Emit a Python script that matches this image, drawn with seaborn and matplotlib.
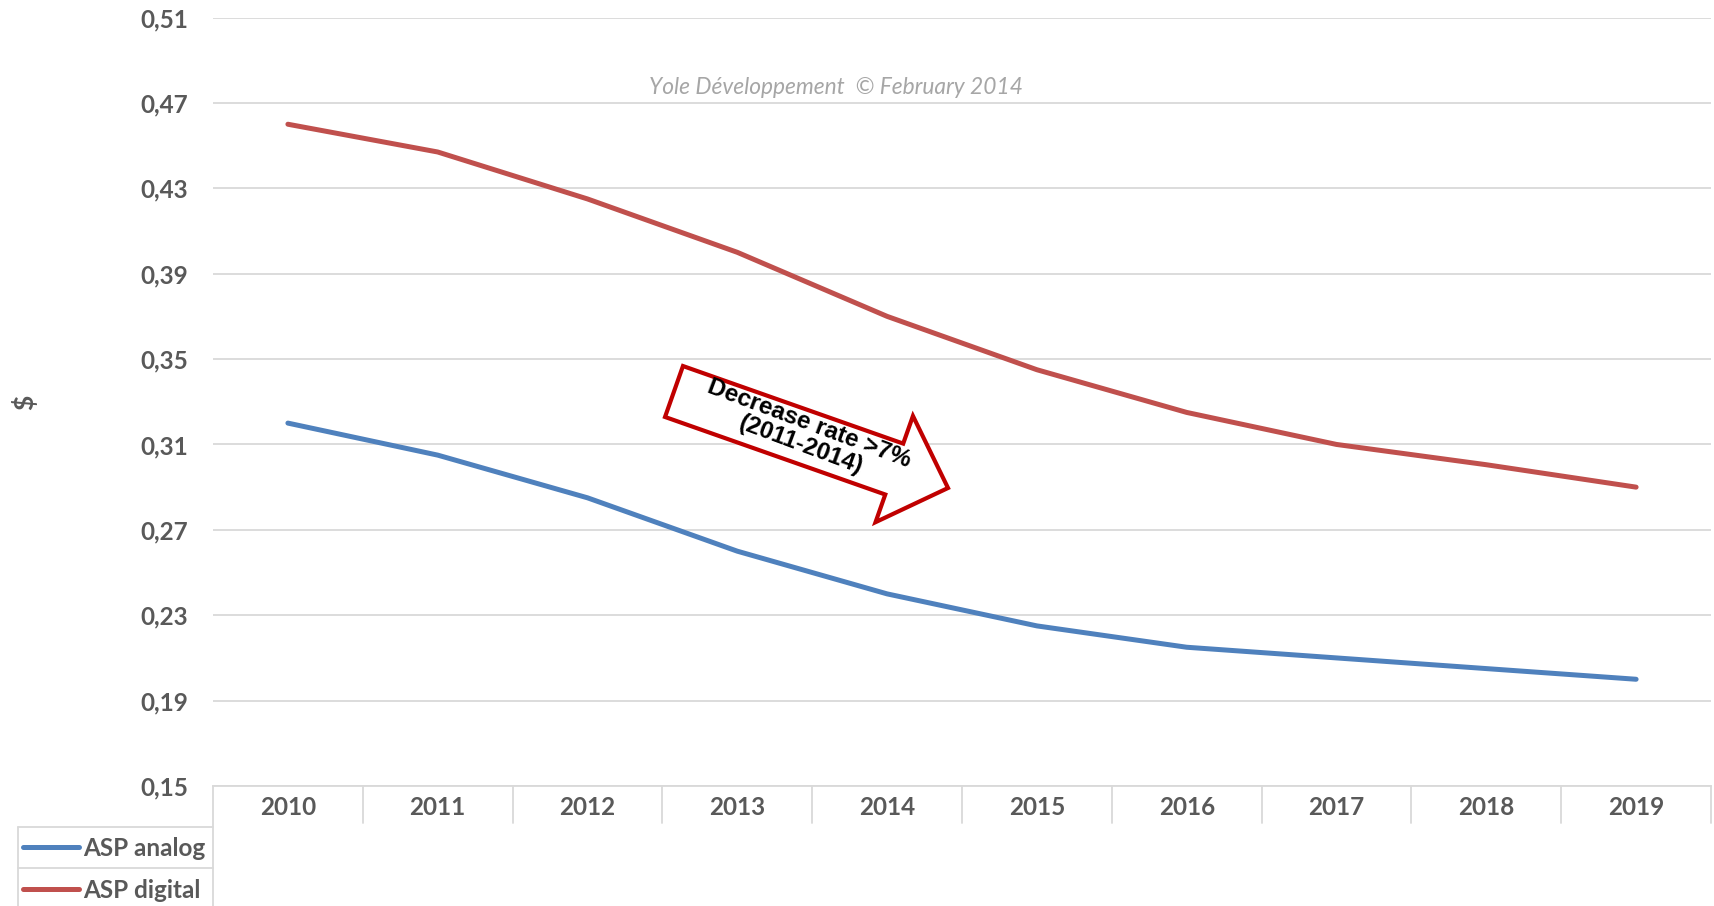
import numpy as np
import pandas as pd
import matplotlib
matplotlib.use('Agg')
import matplotlib.pyplot as plt
import seaborn as sns
from matplotlib.patches import Polygon
from matplotlib.lines import Line2D
from matplotlib.transforms import Affine2D, blended_transform_factory

# Chart data (ASP in $)
years = ['2010', '2011', '2012', '2013', '2014', '2015', '2016', '2017', '2018', '2019']
asp_analog = [0.320, 0.305, 0.285, 0.260, 0.240, 0.225, 0.215, 0.210, 0.205, 0.200]
asp_digital = [0.460, 0.447, 0.425, 0.400, 0.370, 0.345, 0.325, 0.310, 0.3005, 0.290]
series_names = ['ASP analog', 'ASP digital']
y_ticks = [0.15, 0.19, 0.23, 0.27, 0.31, 0.35, 0.39, 0.43, 0.47, 0.51]

df = pd.DataFrame({
    'Year': years * 2,
    'ASP': asp_analog + asp_digital,
    'Series': [series_names[0]] * len(years) + [series_names[1]] * len(years),
})
df['pos'] = list(range(len(years))) * 2

sns.set_style('white')
plt.rcParams['font.family'] = ['Lato', 'DejaVu Sans']

W, H = 1714, 906
fig = plt.figure(figsize=(W / 100, H / 100), dpi=100)
ax = fig.add_axes([213 / W, (H - 786) / H, (1711 - 213) / W, (786 - 17.5) / H])

grey_txt = '#595959'
grid_col = '#D9D9D9'
palette = {'ASP analog': '#4F81BD', 'ASP digital': '#C0504D'}
fs = 17.5

sns.lineplot(data=df, x='pos', y='ASP', hue='Series', palette=palette,
             linewidth=3.6, ax=ax, legend=False, solid_capstyle='round')

ax.set_xlim(-0.5, len(years) - 0.5)
ax.set_ylim(y_ticks[0], y_ticks[-1])
ax.set_yticks(y_ticks)
ax.set_yticklabels([f'{v:.2f}'.replace('.', ',') for v in y_ticks])
ax.set_xticks(range(len(years)))
ax.set_xticklabels(years)
ax.set_xlabel('')
ax.set_ylabel('')
ax.grid(axis='y', color=grid_col, linewidth=1.3)
ax.set_axisbelow(True)
for s in ['top', 'right', 'left']:
    ax.spines[s].set_visible(False)
ax.spines['bottom'].set_color(grid_col)
ax.spines['bottom'].set_linewidth(1.3)
ax.tick_params(axis='both', length=0, labelcolor=grey_txt, labelsize=fs)
ax.tick_params(axis='y', pad=18)
ax.tick_params(axis='x', pad=7)
for lab in ax.get_xticklabels() + ax.get_yticklabels():
    lab.set_fontweight('bold')

# category separators below the axis
trans = blended_transform_factory(ax.transData, ax.transAxes)
for i in range(len(years) + 1):
    x = i - 0.5
    ymin = -0.156 if i == 0 else -0.048
    ax.plot([x, x], [0, ymin], transform=trans, color=grid_col, lw=1.3, clip_on=False)

# y-axis label
fig.text(24 / W, 1 - 402 / H, '$', rotation=90, ha='center', va='center',
         color=grey_txt, fontsize=19, fontweight='bold')

# watermark
fig.text(836 / W, 1 - 88 / H, 'Yole Développement  © February 2014', ha='center', va='center',
         color='#A6A6A6', fontsize=16.4, style='italic')

# legend with table-like box
handles = [Line2D([], [], color=palette[n], lw=3.6, solid_capstyle='round') for n in series_names]
fig.legend(handles, series_names, loc='upper left', bbox_to_anchor=(23 / W, 1 - 837 / H),
           frameon=False, handlelength=2.3, handletextpad=0.16, labelspacing=0.77,
           borderpad=0, borderaxespad=0,
           prop={'weight': 'bold', 'size': fs}, labelcolor=grey_txt)
for yy in [827, 868]:
    fig.add_artist(Line2D([18 / W, 213 / W], [1 - yy / H] * 2, color=grid_col, lw=1.3))
fig.add_artist(Line2D([18 / W, 18 / W], [1 - 827 / H, 0], color=grid_col, lw=1.3))

# block arrow annotation
L, bw, hw, hl = 2.905, 0.54, 1.126, 0.57
pts = np.array([[0, bw / 2], [L - hl, bw / 2], [L - hl, hw / 2], [L, 0],
                [L - hl, -hw / 2], [L - hl, -bw / 2], [0, -bw / 2]])
arrow_tr = Affine2D().rotate_deg(-19.4).translate(6.74, (H - 391.5) / 100) + fig.dpi_scale_trans
fig.add_artist(Polygon(pts, closed=True, facecolor='white', edgecolor='#C00000',
                       lw=3, transform=arrow_tr, joinstyle='miter'))
fig.text(805 / W, 1 - 434 / H, 'Decrease rate >7%\n(2011-2014)', rotation=-20.5,
         rotation_mode='anchor', ha='center', va='center', multialignment='center',
         fontsize=17.5, fontweight='bold', family='Liberation Sans', color='black',
         linespacing=1.0)

fig.savefig('out.png', dpi=100)
